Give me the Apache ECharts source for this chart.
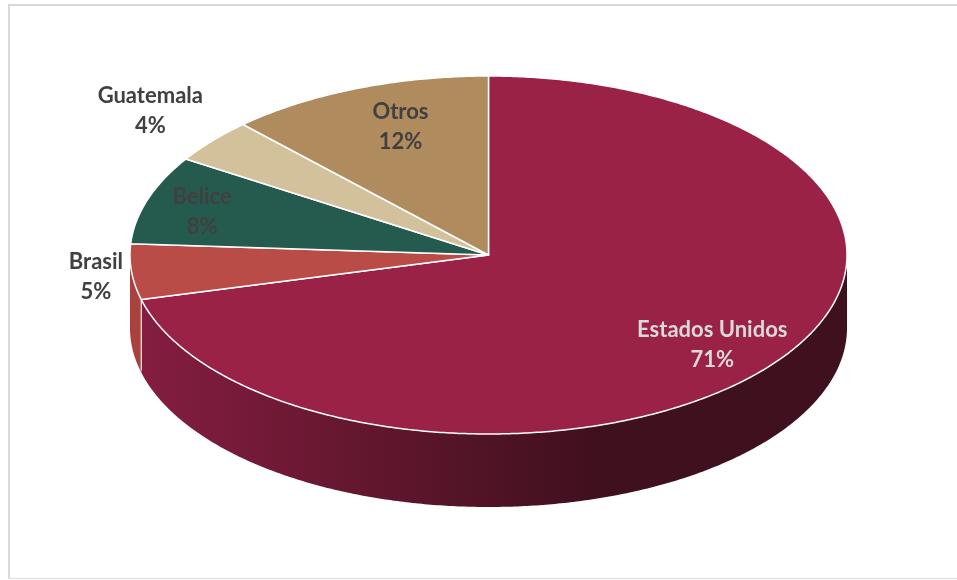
<!DOCTYPE html>
<html>
<head>
<meta charset="utf-8">
<script src="https://cdn.jsdelivr.net/npm/echarts@6/dist/echarts.min.js"></script>
<style>
  html, body { margin: 0; padding: 0; background: #ffffff; }
  #chart { width: 957px; height: 580px; }
</style>
</head>
<body>
<div id="chart"></div>
<script>
// Destination shares (%)
const categories = ['Estados Unidos', 'Brasil', 'Belice', 'Guatemala', 'Otros'];
const shares = [71, 5, 8, 4, 12];

// Slice styling
const topColors = ['#9b2247', '#ba4c48', '#245b4e', '#d3c19b', '#b08b5d'];
const sideGradients = [
  ['#851d40', '#3f101d'],
  ['#a9423d', '#7a2b28'],
  ['#1c4a3f', '#12302a'],
  ['#b5a47f', '#857658'],
  ['#94744c', '#6b5437']
];
const labelColors = ['#d9d9d9', '#404040', '#404040', '#404040', '#404040'];
// label anchor: radius factor on the ellipse, and angular shift (degrees) from slice mid-angle
const labelLayout = [
  { r: 0.79, shift: 0 },
  { r: 1.10, shift: 0 },
  { r: 0.84, shift: 0 },
  { r: 1.25, shift: 1.4 },
  { r: 0.77, shift: 3 }
];
const LABEL_DY = 3;

// Pie geometry (tilted disc)
const CX = 488.5, CY = 255, RX = 358.5, RY = 179, DEPTH = 73;

const total = shares.reduce((s, v) => s + v, 0);
const startAngles = [];
let acc = 0;
shares.forEach(v => { startAngles.push(acc / total * 360); acc += v; });

// clockwise angle from 12 o'clock -> screen point on the ellipse
function pt(a, dy, r) {
  const t = (90 - a) * Math.PI / 180;
  const k = r == null ? 1 : r;
  return [CX + RX * k * Math.cos(t), CY - RY * k * Math.sin(t) + (dy || 0)];
}
function arc(a0, a1, dy) {
  const pts = [];
  const n = Math.max(2, Math.ceil(Math.abs(a1 - a0) / 0.5));
  for (let i = 0; i <= n; i++) pts.push(pt(a0 + (a1 - a0) * i / n, dy));
  return pts;
}

function renderItem(params, api) {
  const i = params.dataIndex;
  const value = api.value(1);
  const a0 = startAngles[i];
  const a1 = a0 + value / total * 360;
  const children = [];

  // front wall: only the part facing the viewer (90..270 deg clockwise)
  const s = Math.max(a0, 90), e = Math.min(a1, 270);
  if (e > s) {
    const upper = arc(s, e, 0);
    const lower = arc(e, s, DEPTH);
    const g = sideGradients[i];
    children.push({
      type: 'polygon',
      z2: 1,
      shape: { points: upper.concat(lower) },
      style: {
        fill: {
          type: 'linear', x: CX - RX + 10, y: 0, x2: CX + 110, y2: 0, global: true,
          colorStops: [{ offset: 0, color: g[0] }, { offset: 1, color: g[1] }]
        },
        stroke: null
      }
    });
    // vertical seam at the wall's start where it meets another slice
    if (s > 90 && s < 270) {
      const p = pt(s, 0);
      children.push({
        type: 'line', z2: 2,
        shape: { x1: p[0], y1: p[1], x2: p[0], y2: p[1] + DEPTH - 2 },
        style: { stroke: 'rgba(255,255,255,0.85)', lineWidth: 1.2 }
      });
    }
  }

  // top face
  children.push({
    type: 'polygon',
    z2: 10,
    shape: { points: [[CX, CY]].concat(arc(a0, a1, 0)) },
    style: { fill: topColors[i], stroke: '#ffffff', lineWidth: 1.5, lineJoin: 'round' }
  });

  // label
  const L = labelLayout[i];
  const mid = (a0 + a1) / 2 + L.shift;
  const lp = pt(mid, LABEL_DY, L.r);
  children.push({
    type: 'text',
    z2: 20,
    style: {
      text: categories[i] + '\n' + Math.round(value / total * 100) + '%',
      x: lp[0], y: lp[1],
      align: 'center', verticalAlign: 'middle',
      fill: labelColors[i],
      font: 'bold 22px Lato, "Open Sans", sans-serif',
      lineHeight: 30
    }
  });

  return { type: 'group', children: children };
}

const chart = echarts.init(document.getElementById('chart'), null, { renderer: 'canvas' });
chart.setOption({
  backgroundColor: '#ffffff',
  animation: false,
  graphic: [
    { type: 'line', shape: { x1: 8, y1: 5, x2: 957, y2: 5 }, style: { stroke: '#d9d9d9', lineWidth: 2 } },
    { type: 'line', shape: { x1: 9, y1: 5, x2: 9, y2: 579 }, style: { stroke: '#d9d9d9', lineWidth: 2 } },
    { type: 'line', shape: { x1: 9, y1: 578.5, x2: 957, y2: 578.5 }, style: { stroke: '#e3e3e3', lineWidth: 1.5 } }
  ],
  series: [{
    type: 'custom',
    coordinateSystem: 'none',
    renderItem: renderItem,
    data: categories.map((c, i) => [i, shares[i]])
  }]
});
</script>
</body>
</html>
